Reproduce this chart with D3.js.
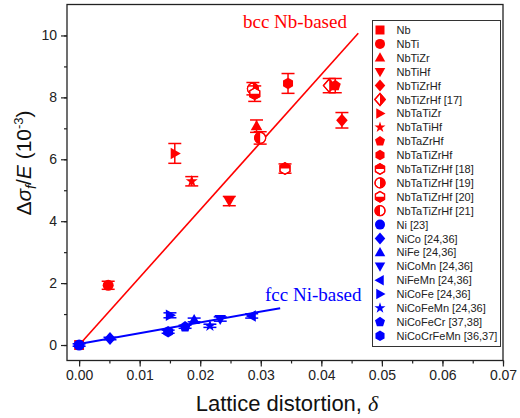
<!DOCTYPE html>
<html>
<head>
<meta charset="utf-8">
<script src="https://cdn.jsdelivr.net/npm/d3@7"></script>
<style>
  html, body { margin: 0; padding: 0; background: #fff; }
  svg { display: block; font-family: "Liberation Sans", Arial, sans-serif; }
</style>
</head>
<body>
<svg id="chart" width="520" height="418"></svg>
<script>
// Lattice distortion vs. normalized friction stress, bcc Nb-based and fcc Ni-based alloys
const nbNames  = ["Nb", "NbTi", "NbTiZr", "NbTiHf", "NbTiZrHf", "NbTiZrHf [17]", "NbTaTiZr", "NbTaTiHf",
                  "NbTaZrHf", "NbTaTiZrHf", "NbTaTiZrHf [18]", "NbTaTiZrHf [19]", "NbTaTiZrHf [20]", "NbTaTiZrHf [21]"];
const nbShapes = ["square", "circle", "triUp", "triDown", "diamond", "diamondHalfR", "triRight", "star",
                  "pentagon", "hexagon", "hexTop", "circHalfR", "hexBottom", "circHalfL"];
const nbDelta  = [0.0000, 0.0048, 0.0293, 0.0248, 0.0434, 0.0413, 0.0158, 0.0186,
                  0.0423, 0.0345, 0.0340, 0.0287, 0.0290, 0.0299];
const nbValue  = [0.00, 1.93, 7.07, 4.65, 7.26, 8.38, 6.19, 5.29,
                  8.38, 8.45, 5.70, 8.28, 8.12, 6.69];
const nbError  = [0.00, 0.13, 0.20, 0.15, 0.25, 0.23, 0.32, 0.15,
                  0.23, 0.32, 0.15, 0.20, 0.25, 0.20];

const niNames  = ["Ni [23]", "NiCo [24,36]", "NiFe [24,36]", "NiCoMn [24,36]", "NiFeMn [24,36]",
                  "NiCoFe [24,36]", "NiCoFeMn [24,36]", "NiCoFeCr [37,38]", "NiCoCrFeMn [36,37]"];
const niShapes = ["circle", "diamond", "triUp", "triDown", "triLeft", "triRight", "star", "pentagon", "hexagon"];
const niDelta  = [0.0000, 0.0051, 0.0190, 0.0233, 0.0285, 0.0150, 0.0216, 0.0175, 0.0147];
const niValue  = [0.00, 0.21, 0.81, 0.84, 0.94, 0.96, 0.62, 0.59, 0.43];
const niError  = [0.04, 0.04, 0.06, 0.07, 0.07, 0.08, 0.05, 0.05, 0.05];

// Linear guide lines [delta, value] end points
const nbFit = [[0.0000, 0.00], [0.0461, 10.07]];
const niFit = [[-0.0005, 0.02], [0.0332, 1.19]];

const xTicks = [0, 0.01, 0.02, 0.03, 0.04, 0.05, 0.06, 0.07];
const yTicks = [0, 2, 4, 6, 8, 10];

const RED = "#ff0000", BLUE = "#0000ff";

const svg = d3.select("#chart");
const plot = { left: 67, right: 503, top: 4.5, bottom: 360.5 };

const x = d3.scaleLinear().domain([-0.002, 0.07]).range([plot.left, plot.right]);
const y = d3.scaleLinear().domain([-0.5, 11]).range([plot.bottom, plot.top]);

// Axes with major and minor ticks
const xMinor = d3.range(0, 0.0701, 0.005);
const yMinor = d3.range(0, 10.01, 1);

svg.append("g").attr("transform", `translate(0,${plot.bottom})`)
  .call(d3.axisBottom(x).tickValues(xMinor).tickSize(3).tickFormat(""))
  .call(g => g.select(".domain").remove())
  .call(g => g.selectAll("line").attr("stroke", "#222").attr("stroke-width", 1.2));
svg.append("g").attr("transform", `translate(0,${plot.bottom})`)
  .call(d3.axisBottom(x).tickValues(xTicks).tickSize(6).tickPadding(4).tickFormat(d3.format(".2f")))
  .call(g => g.select(".domain").remove())
  .call(g => g.selectAll("line").attr("stroke", "#222").attr("stroke-width", 1.2))
  .call(g => g.selectAll("text").attr("font-size", 14).attr("fill", "#222")
    .attr("font-family", "Liberation Sans, Arial, sans-serif"));

svg.append("g").attr("transform", `translate(${plot.left},0)`)
  .call(d3.axisLeft(y).tickValues(yMinor).tickSize(3).tickFormat(""))
  .call(g => g.select(".domain").remove())
  .call(g => g.selectAll("line").attr("stroke", "#222").attr("stroke-width", 1.2));
svg.append("g").attr("transform", `translate(${plot.left},0)`)
  .call(d3.axisLeft(y).tickValues(yTicks).tickSize(6).tickPadding(4).tickFormat(d3.format("d")))
  .call(g => g.select(".domain").remove())
  .call(g => g.selectAll("line").attr("stroke", "#222").attr("stroke-width", 1.2))
  .call(g => g.selectAll("text").attr("font-size", 14).attr("fill", "#222")
    .attr("font-family", "Liberation Sans, Arial, sans-serif"));

// Plot frame
svg.append("rect")
  .attr("x", plot.left).attr("y", plot.top)
  .attr("width", plot.right - plot.left).attr("height", plot.bottom - plot.top)
  .attr("fill", "none").attr("stroke", "#222").attr("stroke-width", 1.3);

// Fit lines
const line = d3.line().x(d => x(d[0])).y(d => y(d[1]));
svg.append("path").attr("d", line(nbFit)).attr("stroke", RED).attr("stroke-width", 1.6).attr("fill", "none");
svg.append("path").attr("d", line(niFit)).attr("stroke", BLUE).attr("stroke-width", 2).attr("fill", "none");

// Marker outlines
function polygon(points) { return "M" + points.map(p => p.join(",")).join("L") + "Z"; }
function regular(n, r, rot) {
  return d3.range(n).map(i => {
    const a = rot + i * 2 * Math.PI / n;
    return [r * Math.sin(a), -r * Math.cos(a)];
  });
}
function shapePath(kind, r) {
  switch (kind) {
    case "square": return polygon([[-r * 0.9, -r * 0.9], [r * 0.9, -r * 0.9], [r * 0.9, r * 0.9], [-r * 0.9, r * 0.9]]);
    case "circle": case "circHalfR": case "circHalfL":
      return `M${-r},0A${r},${r} 0 1,0 ${r},0A${r},${r} 0 1,0 ${-r},0Z`;
    case "triUp": return polygon([[0, -r * 1.1], [r * 1.05, r * 0.75], [-r * 1.05, r * 0.75]]);
    case "triDown": return polygon([[0, r * 1.1], [r * 1.05, -r * 0.75], [-r * 1.05, -r * 0.75]]);
    case "triLeft": return polygon([[-r * 1.1, 0], [r * 0.75, -r * 1.05], [r * 0.75, r * 1.05]]);
    case "triRight": return polygon([[r * 1.1, 0], [-r * 0.75, -r * 1.05], [-r * 0.75, r * 1.05]]);
    case "diamond": case "diamondHalfR": return polygon([[0, -r * 1.2], [r * 1.05, 0], [0, r * 1.2], [-r * 1.05, 0]]);
    case "star": {
      const pts = d3.range(10).map(i => {
        const rr = i % 2 ? r * 0.45 : r * 1.15;
        const a = i * Math.PI / 5;
        return [rr * Math.sin(a), -rr * Math.cos(a)];
      });
      return polygon(pts);
    }
    case "pentagon": return polygon(regular(5, r * 1.05, 0));
    case "hexagon": case "hexTop": case "hexBottom": return polygon(regular(6, r * 1.05, 0));
  }
}
// Half-filled markers: which half carries the colour
const halfClip = {
  diamondHalfR: r => [0, -2 * r, 2 * r, 4 * r],
  circHalfR:    r => [0, -2 * r, 2 * r, 4 * r],
  circHalfL:    r => [-2 * r, -2 * r, 2 * r, 4 * r],
  hexTop:       r => [-2 * r, -2 * r, 4 * r, 2 * r],
  hexBottom:    r => [-2 * r, 0, 4 * r, 2 * r]
};

const defs = svg.append("defs");
let clipCount = 0;
function drawMarker(g, kind, color, r) {
  const d = shapePath(kind, r);
  if (halfClip[kind]) {
    const id = "half" + (clipCount++);
    const [cx, cy, w, h] = halfClip[kind](r);
    defs.append("clipPath").attr("id", id)
      .append("rect").attr("x", cx).attr("y", cy).attr("width", w).attr("height", h);
    g.append("path").attr("d", d).attr("fill", "#fff").attr("stroke", color).attr("stroke-width", 1.2);
    g.append("path").attr("d", d).attr("fill", color).attr("clip-path", `url(#${id})`);
    g.append("path").attr("d", d).attr("fill", "none").attr("stroke", color).attr("stroke-width", 1.2);
  } else {
    g.append("path").attr("d", d).attr("fill", color);
  }
}

function drawSeries(deltas, values, errors, shapes, color) {
  const gs = svg.append("g");
  deltas.forEach((dx, i) => {
    const cx = x(dx), cy = y(values[i]);
    const e = errors[i];
    if (e > 0) {
      const y1 = y(values[i] + e), y2 = y(values[i] - e), cap = 6.5;
      const eb = gs.append("g").attr("stroke", color).attr("stroke-width", 1.5);
      eb.append("line").attr("x1", cx).attr("x2", cx).attr("y1", y1).attr("y2", y2);
      eb.append("line").attr("x1", cx - cap).attr("x2", cx + cap).attr("y1", y1).attr("y2", y1);
      eb.append("line").attr("x1", cx - cap).attr("x2", cx + cap).attr("y1", y2).attr("y2", y2);
    }
    drawMarker(gs.append("g").attr("transform", `translate(${cx},${cy})`), shapes[i], color, 5.5);
  });
}
drawSeries(nbDelta, nbValue, nbError, nbShapes, RED);
drawSeries(niDelta, niValue, niError, niShapes, BLUE);

// Group labels
svg.append("text").attr("x", 243).attr("y", 28)
  .attr("font-family", "Liberation Serif, Times New Roman, serif").attr("font-size", 19)
  .attr("fill", RED).text("bcc Nb-based");
svg.append("text").attr("x", 265).attr("y", 301)
  .attr("font-family", "Liberation Serif, Times New Roman, serif").attr("font-size", 19)
  .attr("fill", BLUE).text("fcc Ni-based");

// Legend
const legend = svg.append("g");
legend.append("rect").attr("x", 372.5).attr("y", 20.5).attr("width", 128).attr("height", 326)
  .attr("fill", "#fff").attr("stroke", "#333").attr("stroke-width", 1);
const legendItems = nbNames.map((n, i) => ({ name: n, shape: nbShapes[i], color: RED }))
  .concat(niNames.map((n, i) => ({ name: n, shape: niShapes[i], color: BLUE })));
legendItems.forEach((it, i) => {
  const ly = 30 + i * 13.9;
  drawMarker(legend.append("g").attr("transform", `translate(380,${ly})`), it.shape, it.color, 5);
  legend.append("text").attr("x", 396.5).attr("y", ly + 4).attr("font-size", 11).attr("fill", "#222")
    .text(it.name);
});

// Axis titles
const xt = svg.append("text").attr("x", 287).attr("y", 411).attr("text-anchor", "middle")
  .attr("font-size", 22).attr("fill", "#111");
xt.append("tspan").text("Lattice distortion, ");
xt.append("tspan").attr("font-family", "Liberation Serif, Times New Roman, serif").attr("font-style", "italic").text("δ");

const yt = svg.append("text").attr("transform", "translate(31,163) rotate(-90)").attr("text-anchor", "middle")
  .attr("font-size", 21).attr("fill", "#111");
yt.append("tspan").text("Δ");
yt.append("tspan").attr("font-style", "italic").text("σ");
yt.append("tspan").attr("font-style", "italic").attr("font-size", 14).attr("dy", 5).text("f");
yt.append("tspan").attr("dy", -5).text("/");
yt.append("tspan").attr("font-style", "italic").text("E");
yt.append("tspan").text(" (10");
yt.append("tspan").attr("font-size", 13).attr("dy", -8).text("-3");
yt.append("tspan").attr("dy", 8).text(")");
</script>
</body>
</html>
